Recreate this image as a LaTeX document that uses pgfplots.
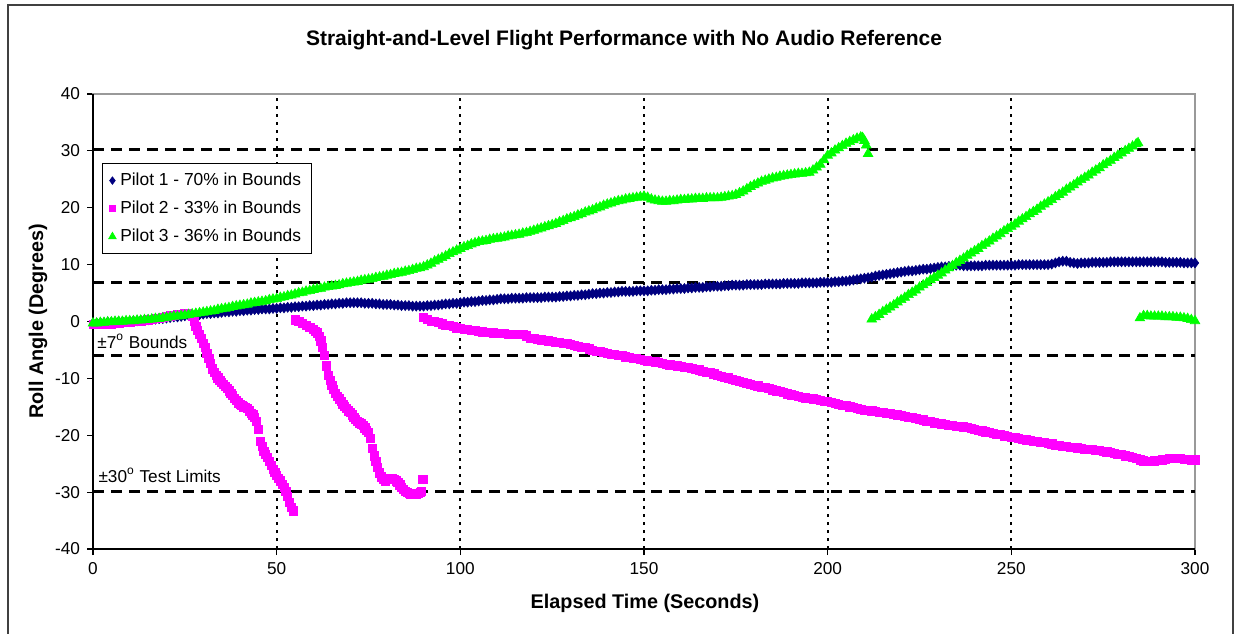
\documentclass[border=0pt]{standalone}
\usepackage{pgfplots}
\pgfplotsset{compat=1.18}
\usepackage{fontspec}
\setmainfont{Liberation Sans}
\definecolor{pnavy}{HTML}{000080}
\definecolor{pmag}{HTML}{FF00FF}
\definecolor{pgreen}{HTML}{00FF00}
\begin{document}
\begin{tikzpicture}
\useasboundingbox (0,0) rectangle (619pt,316.5pt);
\draw[line width=1pt, black!75] (4pt,-2pt) -- (4pt,314pt) -- (616.5pt,314pt) -- (616.5pt,-2pt);
\node[font=\bfseries\fontsize{10.5}{12}\selectfont] at (312pt,296.5pt) {Straight-and-Level Flight Performance with No Audio Reference};
\begin{axis}[
  at={(46.5pt,42pt)}, anchor=south west,
  scale only axis, width=551pt, height=227.5pt,
  xmin=0, xmax=300, ymin=-40, ymax=40,
  xtick={0,50,...,300}, ytick={-40,-30,...,40},
  tick align=outside, xtick pos=bottom, ytick pos=left,
  major tick length=3pt,
  tick style={black, line width=0.6pt},
  axis line style={draw=black!40, line width=0.8pt},
  xmajorgrids, grid style={black, line width=1pt, dash pattern=on 1.5pt off 2.5pt},
  ticklabel style={font=\fontsize{8.6}{10}\selectfont},
  /pgf/number format/assume math mode=true,
  xlabel={Elapsed Time (Seconds)},
  xlabel style={at={(axis description cs:0.5009,-0.119)}, anchor=center, font=\bfseries\fontsize{9.9}{12}\selectfont},
  ylabel={Roll Angle (Degrees)},
  ylabel style={at={(axis description cs:-0.0499,0.5)}, anchor=center, font=\bfseries\fontsize{9.9}{12}\selectfont},
  legend style={at={(rel axis cs:0.0082,0.848)}, anchor=north west, draw=black, line width=0.6pt,
    font=\fontsize{8.7}{10}\selectfont, row sep=2.2pt, inner xsep=3pt, inner ysep=2.5pt},
  legend cell align=left,
  clip=false,
]
\addplot[only marks, mark=diamond*, mark size=2.5pt, color=pnavy, mark options={line width=0.3pt}, legend image post style={mark size=1.9pt}] coordinates {
(0,-0.3)(1,-0.3)(2,-0.2)(3,-0.2)(4,-0.1)(5,-0.1)(6,-0.1)(7,0.0)(8,0.0)(9,0.0)(10,0.0)
(11,0.1)(12,0.1)(13,0.2)(14,0.2)(15,0.3)(16,0.4)(17,0.4)(18,0.5)(19,0.5)(20,0.6)
(21,0.7)(22,0.8)(23,0.8)(24,0.9)(25,1.0)(26,1.1)(27,1.1)(28,1.2)(29,1.2)(30,1.3)
(31,1.4)(32,1.4)(33,1.5)(34,1.5)(35,1.6)(36,1.7)(37,1.7)(38,1.8)(39,1.8)(40,1.9)
(41,1.9)(42,2.0)(43,2.0)(44,2.1)(45,2.1)(46,2.2)(47,2.2)(48,2.2)(49,2.3)(50,2.3)
(51,2.4)(52,2.4)(53,2.5)(54,2.5)(55,2.6)(56,2.6)(57,2.7)(58,2.7)(59,2.8)(60,2.8)
(61,2.9)(62,2.9)(63,3.0)(64,3.0)(65,3.1)(66,3.1)(67,3.2)(68,3.2)(69,3.3)(70,3.3)
(71,3.3)(72,3.3)(73,3.3)(74,3.2)(75,3.2)(76,3.2)(77,3.1)(78,3.1)(79,3.0)(80,3.0)
(81,3.0)(82,2.9)(83,2.9)(84,2.8)(85,2.8)(86,2.8)(87,2.7)(88,2.7)(89,2.7)(90,2.7)
(91,2.8)(92,2.8)(93,2.9)(94,2.9)(95,3.0)(96,3.1)(97,3.1)(98,3.2)(99,3.2)(100,3.3)
(101,3.4)(102,3.4)(103,3.5)(104,3.5)(105,3.6)(106,3.7)(107,3.7)(108,3.8)(109,3.8)(110,3.9)
(111,4.0)(112,4.0)(113,4.0)(114,4.1)(115,4.1)(116,4.1)(117,4.1)(118,4.2)(119,4.2)(120,4.2)
(121,4.2)(122,4.2)(123,4.3)(124,4.3)(125,4.3)(126,4.3)(127,4.4)(128,4.4)(129,4.5)(130,4.5)
(131,4.6)(132,4.6)(133,4.7)(134,4.7)(135,4.8)(136,4.9)(137,4.9)(138,5.0)(139,5.0)(140,5.1)
(141,5.1)(142,5.2)(143,5.2)(144,5.3)(145,5.3)(146,5.3)(147,5.3)(148,5.4)(149,5.4)(150,5.4)
(151,5.4)(152,5.5)(153,5.5)(154,5.6)(155,5.6)(156,5.6)(157,5.7)(158,5.7)(159,5.8)(160,5.8)
(161,5.8)(162,5.9)(163,5.9)(164,6.0)(165,6.0)(166,6.0)(167,6.1)(168,6.1)(169,6.2)(170,6.2)
(171,6.2)(172,6.3)(173,6.3)(174,6.4)(175,6.4)(176,6.4)(177,6.4)(178,6.5)(179,6.5)(180,6.5)
(181,6.5)(182,6.5)(183,6.6)(184,6.6)(185,6.6)(186,6.6)(187,6.6)(188,6.7)(189,6.7)(190,6.7)
(191,6.7)(192,6.7)(193,6.8)(194,6.8)(195,6.8)(196,6.8)(197,6.8)(198,6.9)(199,6.9)(200,6.9)
(201,6.9)(202,7.0)(203,7.0)(204,7.1)(205,7.1)(206,7.2)(207,7.3)(208,7.4)(209,7.5)(210,7.6)
(211,7.7)(212,7.8)(213,8.0)(214,8.1)(215,8.2)(216,8.3)(217,8.4)(218,8.5)(219,8.6)(220,8.7)
(221,8.8)(222,8.9)(223,8.9)(224,9.0)(225,9.1)(226,9.2)(227,9.2)(228,9.3)(229,9.4)(230,9.5)
(231,9.6)(232,9.6)(233,9.7)(234,9.8)(235,9.9)(236,9.9)(237,9.8)(238,9.8)(239,9.8)(240,9.8)
(241,9.8)(242,9.8)(243,9.9)(244,9.9)(245,9.9)(246,9.9)(247,9.9)(248,9.9)(249,9.9)(250,9.9)
(251,9.9)(252,10.0)(253,10.0)(254,10.0)(255,10.0)(256,10.0)(257,10.0)(258,10.0)(259,10.0)(260,10.0)
(261,10.1)(262,10.3)(263,10.5)(264,10.6)(265,10.6)(266,10.4)(267,10.3)(268,10.2)(269,10.3)(270,10.3)
(271,10.3)(272,10.4)(273,10.4)(274,10.4)(275,10.4)(276,10.4)(277,10.5)(278,10.5)(279,10.5)(280,10.5)
(281,10.5)(282,10.5)(283,10.5)(284,10.5)(285,10.5)(286,10.5)(287,10.5)(288,10.5)(289,10.5)(290,10.5)
(291,10.5)(292,10.4)(293,10.4)(294,10.4)(295,10.4)(296,10.4)(297,10.3)(298,10.3)(299,10.3)(300,10.3)
};
\addlegendentry{Pilot 1 - 70\% in Bounds}
\addplot[only marks, mark=square*, mark size=2.05pt, color=pmag, mark options={line width=0.3pt}, legend image post style={mark size=1.6pt}] coordinates {
(0,-0.5)(1,-0.5)(2,-0.5)(3,-0.4)(4,-0.4)(5,-0.4)(6,-0.3)(7,-0.3)(8,-0.2)(9,-0.2)(10,-0.1)
(11,0.0)(12,0.1)(13,0.1)(14,0.2)(15,0.3)(16,0.4)(17,0.5)(18,0.6)(19,0.8)(20,0.9)
(21,1.0)(22,1.1)(23,1.2)(24,1.3)(25,1.4)(26,1.4)(27,1.0)
(27.5,0.0)(28,-0.8)(28.5,-1.5)(29,-2.2)(29.5,-3.0)(30,-3.8)(30.5,-4.6)(31,-5.6)(31.5,-6.5)(32,-7.4)
(32.5,-8.3)(33,-8.9)(33.5,-9.4)(34,-9.9)(34.5,-10.3)(35,-10.7)(35.5,-11.0)(36,-11.4)(36.5,-11.8)(37,-12.2)
(37.5,-12.6)(38,-13.0)(38.5,-13.5)(39,-13.9)(39.5,-14.3)(40,-14.6)(40.5,-14.8)(41,-15.0)(41.5,-15.1)(42,-15.3)
(42.5,-15.7)(43,-16.1)(43.5,-16.4)(44,-16.9)(44.5,-17.6)(45,-19.0)(45.5,-21.0)(46,-22.0)(46.5,-22.8)(47,-23.4)
(47.5,-23.9)(48,-24.6)(48.5,-25.3)(49,-26.0)(49.5,-26.5)(50,-27.0)(50.5,-27.5)(51,-28.0)(51.5,-28.6)(52,-29.2)
(52.5,-29.9)(53,-30.8)(53.5,-31.8)(54,-32.7)(54.5,-33.3)
(55,0.3)(56,0.0)(57,-0.3)(58,-0.6)(59,-1.0)(60,-1.4)(60.5,-1.7)(61,-2.0)(61.5,-2.6)(62,-3.4)
(62.5,-4.5)(63,-6.0)(63.5,-7.8)(64,-9.4)(64.5,-10.4)(65,-11.2)(65.5,-11.9)(66,-12.6)(66.5,-13.2)(67,-13.6)
(67.5,-14.0)(68,-14.5)(68.5,-14.9)(69,-15.3)(69.5,-15.7)(70,-16.0)(70.5,-16.4)(71,-16.8)(71.5,-17.2)(72,-17.5)
(72.5,-17.8)(73,-18.0)(73.5,-18.3)(74,-18.7)(74.5,-19.1)(75,-19.5)(75.5,-20.5)(76,-22.3)(76.5,-23.6)(77,-24.6)
(77.5,-25.6)(78,-26.6)(78.5,-27.3)(79,-27.8)(79.5,-28.0)(80,-27.8)(80.5,-27.6)(81,-27.5)(81.5,-27.6)(82,-27.8)
(82.5,-28.0)(83,-28.3)(83.5,-28.7)(84,-29.1)(84.5,-29.5)(85,-29.8)(85.5,-30.0)(86,-30.2)(86.5,-30.3)(87,-30.4)
(87.5,-30.4)(88,-30.3)(88.5,-30.2)(89,-30.0)(89.4,-29.8)(89.8,-27.7)
(90,0.8)(91,0.4)(92,0.1)(93,0.0)(94,-0.2)(95,-0.4)(96,-0.6)(97,-0.7)(98,-0.9)(99,-1.1)(100,-1.2)
(101,-1.3)(102,-1.4)(103,-1.5)(104,-1.6)(105,-1.7)(106,-1.8)(107,-1.9)(108,-1.9)(109,-2.0)(110,-2.1)
(111,-2.1)(112,-2.1)(113,-2.2)(114,-2.2)(115,-2.2)(116,-2.2)(117,-2.3)(118,-2.5)(119,-2.9)(120,-3.0)
(121,-3.1)(122,-3.2)(123,-3.3)(124,-3.4)(125,-3.5)(126,-3.6)(127,-3.7)(128,-3.8)(129,-3.9)(130,-4.0)
(131,-4.2)(132,-4.3)(133,-4.5)(134,-4.6)(135,-4.8)(136,-5.0)(137,-5.2)(138,-5.3)(139,-5.4)(140,-5.6)
(141,-5.7)(142,-5.8)(143,-5.9)(144,-6.0)(145,-6.2)(146,-6.3)(147,-6.4)(148,-6.5)(149,-6.7)(150,-6.8)
(151,-6.9)(152,-7.0)(153,-7.1)(154,-7.2)(155,-7.4)(156,-7.5)(157,-7.6)(158,-7.7)(159,-7.8)(160,-7.9)
(161,-8.0)(162,-8.1)(163,-8.2)(164,-8.4)(165,-8.5)(166,-8.7)(167,-8.9)(168,-9.0)(169,-9.2)(170,-9.4)
(171,-9.6)(172,-9.8)(173,-9.9)(174,-10.1)(175,-10.3)(176,-10.5)(177,-10.7)(178,-10.8)(179,-11.0)(180,-11.2)
(181,-11.3)(182,-11.5)(183,-11.6)(184,-11.8)(185,-12.0)(186,-12.2)(187,-12.3)(188,-12.5)(189,-12.7)(190,-12.9)
(191,-13.0)(192,-13.2)(193,-13.3)(194,-13.4)(195,-13.5)(196,-13.6)(197,-13.7)(198,-13.9)(199,-14.0)(200,-14.1)
(201,-14.2)(202,-14.4)(203,-14.5)(204,-14.7)(205,-14.8)(206,-15.0)(207,-15.1)(208,-15.3)(209,-15.4)(210,-15.6)
(211,-15.6)(212,-15.7)(213,-15.8)(214,-15.9)(215,-16.0)(216,-16.1)(217,-16.2)(218,-16.3)(219,-16.4)(220,-16.5)
(221,-16.6)(222,-16.8)(223,-16.9)(224,-17.0)(225,-17.2)(226,-17.3)(227,-17.5)(228,-17.6)(229,-17.8)(230,-17.9)
(231,-18.0)(232,-18.1)(233,-18.2)(234,-18.3)(235,-18.4)(236,-18.4)(237,-18.5)(238,-18.6)(239,-18.8)(240,-18.9)
(241,-19.1)(242,-19.2)(243,-19.4)(244,-19.5)(245,-19.7)(246,-19.8)(247,-19.9)(248,-20.1)(249,-20.2)(250,-20.3)
(251,-20.4)(252,-20.6)(253,-20.7)(254,-20.8)(255,-20.9)(256,-21.0)(257,-21.1)(258,-21.2)(259,-21.3)(260,-21.4)
(261,-21.5)(262,-21.7)(263,-21.8)(264,-21.9)(265,-22.0)(266,-22.1)(267,-22.1)(268,-22.2)(269,-22.3)(270,-22.4)
(271,-22.4)(272,-22.5)(273,-22.6)(274,-22.6)(275,-22.8)(276,-22.9)(277,-23.0)(278,-23.2)(279,-23.3)(280,-23.4)
(281,-23.6)(282,-23.7)(283,-23.9)(284,-24.1)(285,-24.3)(286,-24.5)(287,-24.6)(288,-24.6)(289,-24.5)(290,-24.4)
(291,-24.3)(292,-24.2)(293,-24.1)(294,-24.0)(295,-24.1)(296,-24.1)(297,-24.2)(298,-24.2)(299,-24.3)(300,-24.3)
};
\addlegendentry{Pilot 2 - 33\% in Bounds}
\addplot[only marks, mark=triangle*, mark size=2.8pt, color=pgreen, mark options={line width=0.3pt}, legend image post style={mark size=2.2pt}] coordinates {
(0,-0.3)(1,-0.3)(2,-0.2)(3,-0.2)(4,-0.1)(5,-0.1)(6,0.0)(7,0.0)(8,0.0)(9,0.1)(10,0.1)
(11,0.1)(12,0.2)(13,0.2)(14,0.3)(15,0.3)(16,0.4)(17,0.5)(18,0.5)(19,0.6)(20,0.7)
(21,0.8)(22,0.9)(23,0.9)(24,1.0)(25,1.1)(26,1.2)(27,1.3)(28,1.4)(29,1.5)(30,1.6)
(31,1.7)(32,1.8)(33,1.9)(34,2.1)(35,2.2)(36,2.3)(37,2.4)(38,2.6)(39,2.7)(40,2.8)
(41,2.9)(42,3.0)(43,3.2)(44,3.3)(45,3.4)(46,3.5)(47,3.6)(48,3.8)(49,3.9)(50,4.0)
(51,4.2)(52,4.3)(53,4.5)(54,4.6)(55,4.8)(56,5.0)(57,5.1)(58,5.3)(59,5.4)(60,5.6)
(61,5.7)(62,5.8)(63,6.0)(64,6.1)(65,6.2)(66,6.3)(67,6.4)(68,6.6)(69,6.7)(70,6.8)
(71,6.9)(72,7.0)(73,7.2)(74,7.3)(75,7.4)(76,7.5)(77,7.7)(78,7.8)(79,7.9)(80,8.1)
(81,8.2)(82,8.4)(83,8.5)(84,8.6)(85,8.8)(86,8.9)(87,9.1)(88,9.3)(89,9.4)(90,9.6)
(91,9.9)(92,10.2)(93,10.6)(94,10.9)(95,11.2)(96,11.5)(97,11.9)(98,12.2)(99,12.5)(100,12.8)
(101,13.1)(102,13.3)(103,13.6)(104,13.8)(105,14.0)(106,14.1)(107,14.2)(108,14.4)(109,14.5)(110,14.6)
(111,14.7)(112,14.8)(113,15.0)(114,15.1)(115,15.2)(116,15.3)(117,15.5)(118,15.6)(119,15.8)(120,16.0)
(121,16.2)(122,16.4)(123,16.6)(124,16.8)(125,17.0)(126,17.2)(127,17.5)(128,17.7)(129,18.0)(130,18.2)
(131,18.4)(132,18.7)(133,18.9)(134,19.2)(135,19.4)(136,19.6)(137,19.9)(138,20.1)(139,20.4)(140,20.6)
(141,20.8)(142,21.0)(143,21.2)(144,21.3)(145,21.5)(146,21.6)(147,21.7)(148,21.8)(149,21.9)(150,22.0)
(151,21.8)(152,21.5)(153,21.3)(154,21.2)(155,21.1)(156,21.1)(157,21.2)(158,21.2)(159,21.3)(160,21.4)
(161,21.4)(162,21.5)(163,21.5)(164,21.6)(165,21.6)(166,21.6)(167,21.7)(168,21.7)(169,21.7)(170,21.7)
(171,21.8)(172,21.9)(173,22.0)(174,22.1)(175,22.3)(176,22.6)(177,22.9)(178,23.3)(179,23.7)(180,24.0)
(181,24.3)(182,24.6)(183,24.8)(184,25.0)(185,25.2)(186,25.3)(187,25.5)(188,25.6)(189,25.7)(190,25.8)
(191,25.9)(192,26.0)(193,26.0)(194,26.1)(195,26.2)(196,26.6)(197,27.1)(198,27.6)(199,28.4)(200,29.2)
(201,29.6)(202,30.1)(203,30.5)(204,30.9)(205,31.3)(206,31.6)(207,31.9)(208,32.2)(209,32.4)(209.5,32.3)
(210,31.8)(210.5,31.0)(211,29.5)
(212,0.4)(213,0.8)(214,1.2)(215,1.7)(216,2.1)(217,2.5)(218,2.9)(219,3.4)(220,3.8)
(221,4.2)(222,4.7)(223,5.1)(224,5.5)(225,6.0)(226,6.4)(227,6.8)(228,7.3)(229,7.7)(230,8.1)
(231,8.5)(232,9.0)(233,9.4)(234,9.8)(235,10.3)(236,10.7)(237,11.1)(238,11.6)(239,12.0)(240,12.4)
(241,12.8)(242,13.3)(243,13.7)(244,14.1)(245,14.6)(246,15.0)(247,15.4)(248,15.9)(249,16.3)(250,16.7)
(251,17.1)(252,17.6)(253,18.0)(254,18.4)(255,18.9)(256,19.3)(257,19.7)(258,20.2)(259,20.6)(260,21.0)
(261,21.4)(262,21.9)(263,22.3)(264,22.7)(265,23.2)(266,23.6)(267,24.0)(268,24.5)(269,24.9)(270,25.3)
(271,25.7)(272,26.2)(273,26.6)(274,27.0)(275,27.5)(276,27.9)(277,28.3)(278,28.8)(279,29.2)(280,29.6)
(281,30.0)(282,30.4)(283,30.8)(284,31.2)(284.5,31.4)
(285,0.6)(286,1.0)(287,1.0)(288,0.9)(289,0.9)(290,0.9)(291,0.9)(292,0.8)(293,0.8)(294,0.8)
(295,0.7)(296,0.7)(297,0.6)(298,0.5)(299,0.3)(300,0.1)
};
\addlegendentry{Pilot 3 - 36\% in Bounds}
\addplot[forget plot, black, line width=1.5pt, dash pattern=on 5.5pt off 3.5pt] coordinates {(0,30.3) (300,30.3)};
\addplot[forget plot, black, line width=1.5pt, dash pattern=on 5.5pt off 3.5pt] coordinates {(0,6.8) (300,6.8)};
\addplot[forget plot, black, line width=1.5pt, dash pattern=on 5.5pt off 3.5pt] coordinates {(0,-5.9) (300,-5.9)};
\addplot[forget plot, black, line width=1.5pt, dash pattern=on 5.5pt off 3.5pt] coordinates {(0,-29.9) (300,-29.9)};
\draw[black, line width=0.8pt] (rel axis cs:0,1) -- (rel axis cs:0,0) -- (rel axis cs:1,0);
\node[anchor=west, font=\fontsize{8.6}{10}\selectfont, inner sep=0pt] at (axis cs:1.1,-3.5) {±7\textsuperscript{o} Bounds};
\node[anchor=west, font=\fontsize{8.6}{10}\selectfont, inner sep=0pt] at (axis cs:1.4,-27.0) {±30\textsuperscript{o} Test Limits};
\end{axis}
\end{tikzpicture}
\end{document}
